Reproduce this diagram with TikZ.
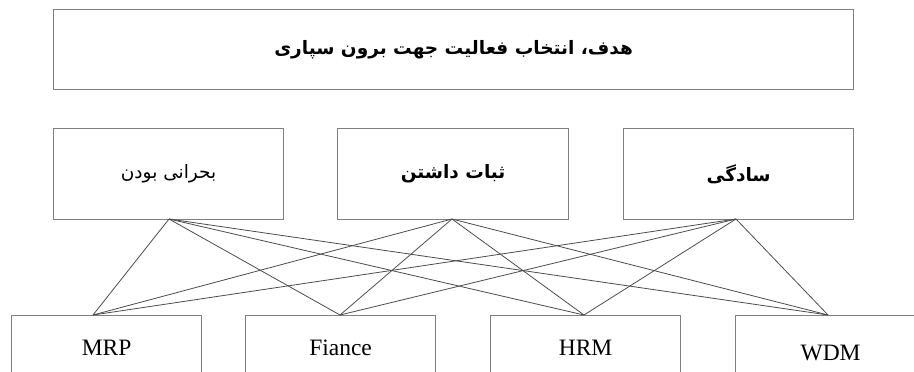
\documentclass[tikz,border=0pt]{standalone}
\usepackage{fontspec}
\setmainfont{Liberation Serif}
\newfontfamily\arabicfont[Script=Arabic]{DejaVu Sans}
\TeXXeTstate=1
\begin{document}
\begin{tikzpicture}[x=1pt,y=-1pt,
  boxstyle/.style={draw=black!50, line width=1.2pt, inner sep=0pt, anchor=north west},
  linkstyle/.style={draw=black!70, line width=0.8pt},
  fatxt/.style={font=\arabicfont\fontsize{18.5}{20}\selectfont},
  fabold/.style={font=\arabicfont\bfseries\fontsize{18.5}{20}\selectfont},
  entxt/.style={font=\fontsize{23.5}{25}\selectfont}]
\useasboundingbox (0,0) rectangle (914,372);
\clip (0,0) rectangle (914,372);
\node[boxstyle, minimum width=800pt, minimum height=80pt, fabold] (goal) at (53,9) {\beginR هدف، انتخاب فعالیت جهت برون سپاری\endR};
\node[boxstyle, minimum width=230pt, minimum height=91pt, fatxt] (c1) at (53,128) {\beginR بحرانی بودن\endR};
\node[boxstyle, minimum width=231pt, minimum height=91pt, fabold] (c2) at (337,128) {\beginR ثبات داشتن\endR};
\node[boxstyle, minimum width=230pt, minimum height=91pt, fabold] (c3) at (623,128) {\beginR سادگی\endR};
\node[boxstyle, minimum width=190pt, minimum height=64pt, entxt] (mrp) at (11,315) {MRP};
\node[boxstyle, minimum width=190pt, minimum height=64pt, entxt] (fin) at (245,315) {Fiance};
\node[boxstyle, minimum width=190pt, minimum height=64pt, entxt] (hrm) at (490,315) {HRM};
\node[boxstyle, minimum width=190pt, minimum height=74pt, entxt] (wdm) at (735,315) {WDM};
\coordinate (pm) at (93,315);
\coordinate (pf) at (340,315);
\coordinate (ph) at (584,315);
\coordinate (pw) at (828,315);
\coordinate (t1) at (169,219);
\coordinate (t2) at (452,219);
\coordinate (t3) at (736,219);
\foreach \t in {t1,t2,t3}{
  \foreach \b in {pm,pf,ph,pw}{
    \draw[linkstyle] (\t) -- (\b);
  }
}
\end{tikzpicture}
\end{document}
